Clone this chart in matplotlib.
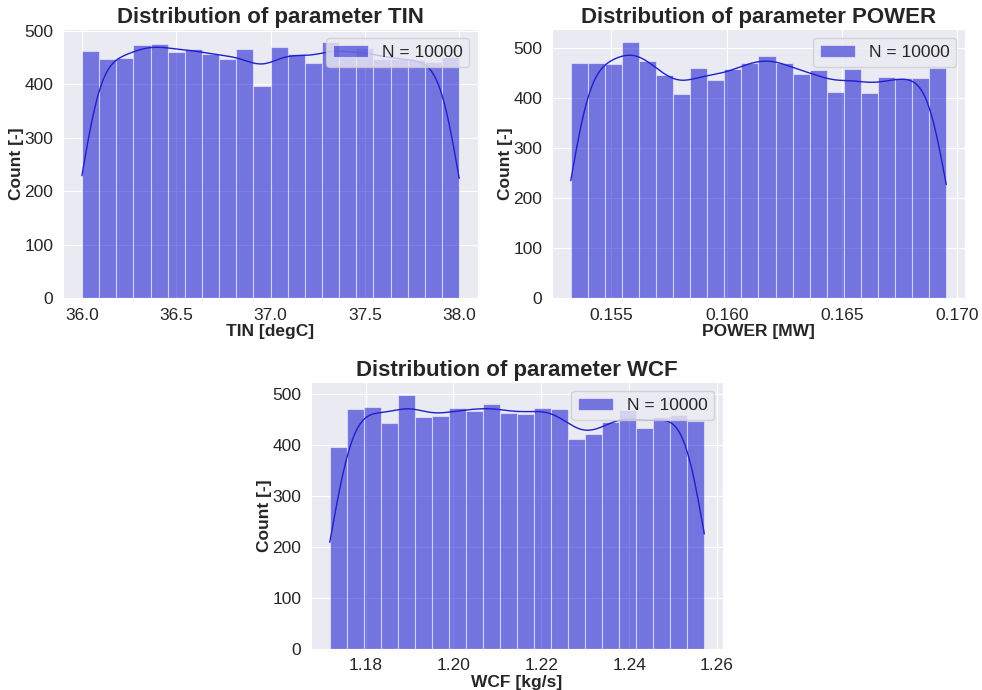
import numpy as np
import matplotlib
matplotlib.use('Agg')
import matplotlib.pyplot as plt
import seaborn as sns

# histogram counts (22 bins each, N = 10000)
tin_range = [36.0, 38.0]
tin_counts = [463, 447, 449, 474, 476, 461, 467, 458, 447, 467, 398,
              470, 457, 440, 480, 451, 469, 448, 448, 446, 442, 451]

power_range = [0.15324, 0.16952]
power_counts = [470, 470, 468, 513, 475, 447, 408, 460, 437, 458, 471,
                485, 471, 448, 457, 413, 458, 411, 442, 440, 440, 460]

wcf_range = [1.17185, 1.25713]
wcf_counts = [395, 469, 473, 443, 498, 454, 457, 471, 466, 479, 462,
              461, 471, 469, 412, 420, 445, 468, 432, 454, 458, 447]

n_samples = 10000

sns.set_style('darkgrid')
plt.rcParams['font.family'] = ['Liberation Sans', 'DejaVu Sans']
plt.rcParams['font.size'] = 12.5


def histPanel(ax, name, unit, rng, counts):
    counts = np.array(counts, dtype=float)
    edges = np.linspace(rng[0], rng[1], len(counts) + 1)
    centers = 0.5 * (edges[:-1] + edges[1:])
    binw = edges[1] - edges[0]

    ax.hist(centers, bins=edges, weights=counts, color='mediumblue', alpha=0.5,
            edgecolor='white', linewidth=0.8, label='N = %d' % n_samples)

    # gaussian kde (scott bw) from the binned values, scaled to counts
    mean = np.sum(centers * counts) / counts.sum()
    std = np.sqrt(np.sum(counts * (centers - mean) ** 2) / counts.sum() + binw ** 2 / 12)
    bw = std * n_samples ** (-1. / 5)
    grid = np.linspace(rng[0], rng[1], 200)
    dens = np.zeros_like(grid)
    for c, w in zip(centers, counts):
        dens += w * np.exp(-0.5 * ((grid - c) / bw) ** 2)
    dens = dens / (counts.sum() * bw * np.sqrt(2 * np.pi))
    ax.plot(grid, dens * counts.sum() * binw, color='#1f1fcc', linewidth=1)

    ax.set_title('Distribution of parameter %s' % name, fontweight='bold', fontsize=16, pad=4)
    ax.set_xlabel('%s [%s]' % (name, unit), fontweight='bold', labelpad=1)
    ax.set_ylabel('Count [-]', fontweight='bold', labelpad=0)
    ax.set_yticks([0, 100, 200, 300, 400, 500])
    ax.legend(loc='upper right')


fig = plt.figure(figsize=(9.82, 6.9), dpi=100)
ax1 = fig.add_axes([0.0642, 0.5681, 0.4226, 0.3899])
ax2 = fig.add_axes([0.5621, 0.5681, 0.4206, 0.3899])
ax3 = fig.add_axes([0.3167, 0.0600, 0.4196, 0.3864])

histPanel(ax1, 'TIN', 'degC', tin_range, tin_counts)
histPanel(ax2, 'POWER', 'MW', power_range, power_counts)
ax2.set_xticks([0.155, 0.160, 0.165, 0.170])
histPanel(ax3, 'WCF', 'kg/s', wcf_range, wcf_counts)
ax3.set_xticks([1.18, 1.20, 1.22, 1.24, 1.26])

fig.savefig('out.png', dpi=100)
